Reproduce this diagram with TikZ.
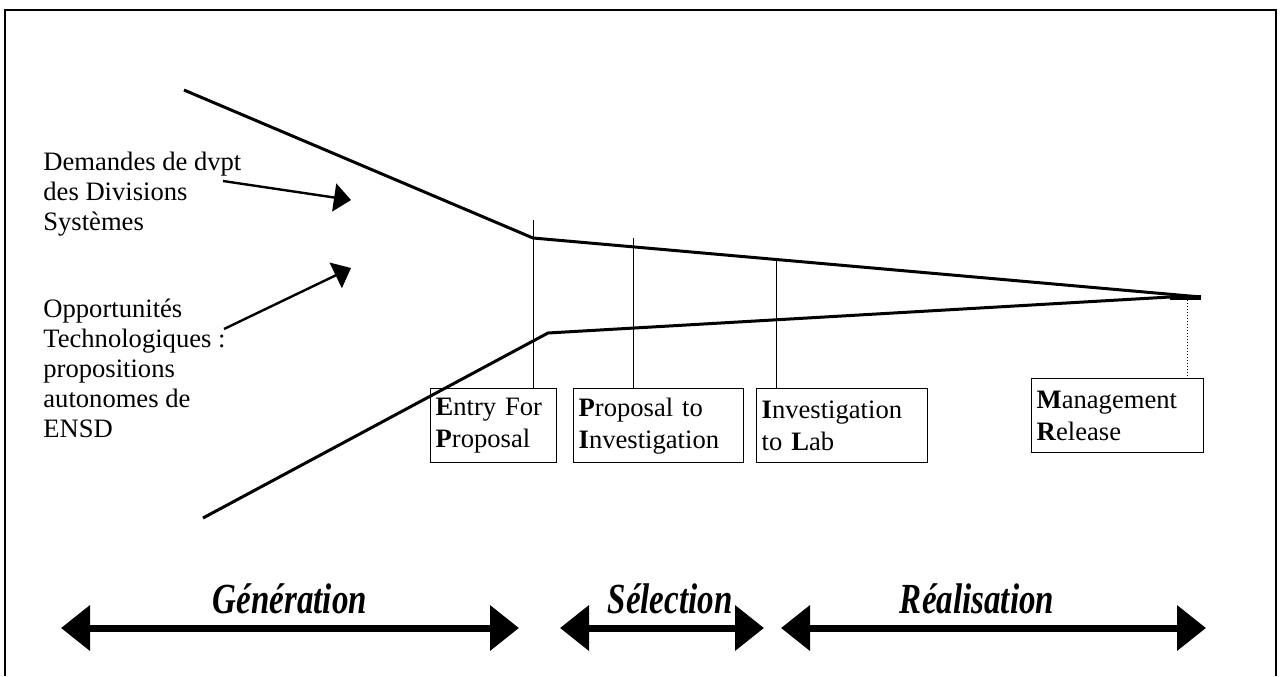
\documentclass[tikz,border=0pt]{standalone}
\usepackage{fontspec}
\setmainfont{Liberation Serif}
\usetikzlibrary{arrows.meta}
\begin{document}
\begin{tikzpicture}[x=0.5pt,y=-0.5pt,
  funnel/.style={line width=1.5pt, line join=round},
  thinline/.style={line width=0.5pt},
  gatebox/.style={draw, line width=0.7pt, inner xsep=2.5pt, inner ysep=3.5pt, align=left, anchor=north west,
     font=\fontsize{13.3}{16}\selectfont, minimum height=37pt},
  lefttext/.style={inner sep=0pt, align=left, anchor=north west, font=\fontsize{13.3}{15}\selectfont},
  inarrow/.style={line width=1.2pt, -{Triangle[length=8.5pt,width=14pt]}},
  phase/.style={line width=3.5pt, {Triangle[length=14.5pt,width=22pt]}-{Triangle[length=14.5pt,width=22pt]}},
  phaselabel/.style={font=\fontsize{16.5}{20}\selectfont\bfseries\itshape, inner sep=0pt, anchor=base}
]
\useasboundingbox (0,0) rectangle (1282,676);
% frame
\draw[line width=1pt] (5,676) -- (5,10) -- (1276,10) -- (1276,676);

% funnel
\coordinate (ut) at (184,90);
\coordinate (uk) at (533,238);
\coordinate (lt) at (203,518);
\coordinate (lk) at (548,333);
\coordinate (ce) at (1201,297);
\coordinate (cs) at (1170,297);
\draw[funnel] (ut) -- (uk) -- (ce);
\draw[funnel] (lt) -- (lk) -- (cs);
\draw[line width=2.5pt] (cs) -- (ce);

% left texts
\node[lefttext] (dem) at (43,152) {Demandes de dvpt\\des Divisions\\Systèmes};
\node[lefttext] (opp) at (43,299) {Opportunités\\Technologiques :\\propositions\\autonomes de\\ENSD};
\coordinate (a1s) at (223,181);
\coordinate (a1e) at (351,200);
\coordinate (a2s) at (224,329);
\coordinate (a2e) at (351,268);
\draw[inarrow] (a1s) -- (a1e);
\draw[inarrow] (a2s) -- (a2e);

% gate boxes
\node[gatebox, text width=58pt] (efp) at (430,388) {\textbf{E}ntry For\\\textbf{P}roposal};
\node[gatebox, text width=80pt] (pti) at (573,388) {\textbf{P}roposal to\\\textbf{I}nvestigation};
\node[gatebox, text width=80.5pt] (itl) at (756,388) {\textbf{I}nvestigation\\to \textbf{L}ab};
\node[gatebox, text width=81pt] (mr) at (1031,378) {\textbf{M}anagement\\\textbf{R}elease};

% vertical gate lines
\coordinate (v1) at (533,220);
\coordinate (v2) at (633,238);
\coordinate (v3) at (776,258);
\coordinate (v4) at (1187,297);
\draw[thinline] (v1) -- (v1 |- efp.north);
\draw[thinline] (v2) -- (v2 |- pti.north);
\draw[thinline] (v3) -- (v3 |- itl.north);
\draw[thinline, densely dotted] (v4) -- (v4 |- mr.north);

% phases
\coordinate (g1) at (61,628);
\coordinate (g2) at (519,628);
\coordinate (s1) at (560,628);
\coordinate (s2) at (764,628);
\coordinate (r1) at (781,628);
\coordinate (r2) at (1206,628);
\draw[phase] (g1) -- (g2);
\draw[phase] (s1) -- (s2);
\draw[phase] (r1) -- (r2);
\node[phaselabel] (gl) at (290,613) {\scalebox{1}[1.3]{Génération}};
\node[phaselabel] (sl) at (670,613) {\scalebox{1}[1.3]{Sélection}};
\node[phaselabel] (rl) at (977,613) {\scalebox{1}[1.3]{Réalisation}};
\end{tikzpicture}
\end{document}
